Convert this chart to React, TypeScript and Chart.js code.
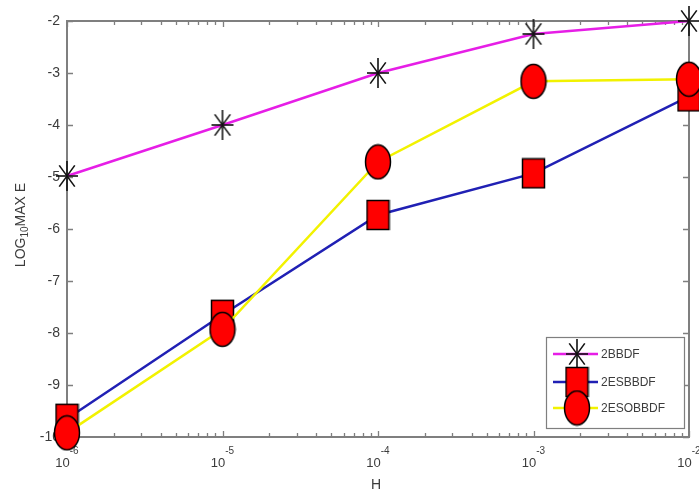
import React, { useEffect, useRef } from "react";
import { Chart, registerables } from "chart.js";

Chart.register(...registerables);

const hValues = [1e-6, 1e-5, 1e-4, 1e-3, 1e-2];
const bbdf = [-4.98, -4.0, -3.0, -2.25, -2.0];
const esbbdf = [-9.65, -7.65, -5.73, -4.93, -3.45];
const esobbdf = [-9.92, -7.93, -4.71, -3.16, -3.12];
const yTicks = [-2, -3, -4, -5, -6, -7, -8, -9, -10];
const xExponents = [-6, -5, -4, -3, -2];
const seriesNames = ["2BBDF", "2ESBBDF", "2ESOBBDF"];
const seriesColors = ["#e61ee6", "#2020b4", "#f2f200"];

const FONT = '"Liberation Sans", Arial, sans-serif';
const AXIS = "#7f7f7f";
const TEXT = "#3c3c3c";

function makeCircle(): HTMLCanvasElement {
  const c = document.createElement("canvas");
  c.width = 28;
  c.height = 37;
  const ctx = c.getContext("2d")!;
  ctx.beginPath();
  ctx.ellipse(14, 18.5, 12.5, 17, 0, 0, Math.PI * 2);
  ctx.fillStyle = "#ff0000";
  ctx.fill();
  ctx.lineWidth = 1.5;
  ctx.strokeStyle = "#000";
  ctx.stroke();
  return c;
}

function makeSquare(): HTMLCanvasElement {
  const c = document.createElement("canvas");
  c.width = 25;
  c.height = 32;
  const ctx = c.getContext("2d")!;
  ctx.fillStyle = "#ff0000";
  ctx.fillRect(1.5, 1.5, 22, 29);
  ctx.lineWidth = 1.5;
  ctx.strokeStyle = "#000";
  ctx.strokeRect(1.5, 1.5, 22, 29);
  return c;
}

function makeStar(): HTMLCanvasElement {
  const c = document.createElement("canvas");
  c.width = 26;
  c.height = 34;
  const ctx = c.getContext("2d")!;
  ctx.strokeStyle = "#111";
  ctx.lineWidth = 1.6;
  const cx = 13, cy = 17, rx = 11, ry = 15;
  for (let i = 0; i < 4; i++) {
    const a = (i * Math.PI) / 4;
    ctx.beginPath();
    ctx.moveTo(cx + rx * Math.cos(a), cy + ry * Math.sin(a));
    ctx.lineTo(cx - rx * Math.cos(a), cy - ry * Math.sin(a));
    ctx.stroke();
  }
  return c;
}

export default function App() {
  const ref = useRef<HTMLCanvasElement | null>(null);

  useEffect(() => {
    document.body.style.margin = "0";
    const canvas = ref.current!;
    const star = makeStar();
    const square = makeSquare();
    const circle = makeCircle();
    const markers = [star, square, circle];

    const axesPlugin = {
      id: "matlabAxes",
      beforeDatasetsDraw(chart: any) {
        const ctx = chart.ctx as CanvasRenderingContext2D;
        const { left, right, top, bottom } = chart.chartArea;
        const xs = chart.scales.x;
        const ys = chart.scales.y;
        ctx.save();
        ctx.strokeStyle = AXIS;
        ctx.lineWidth = 2;
        ctx.strokeRect(left, top, right - left, bottom - top);
        ctx.lineWidth = 1.3;
        for (const v of yTicks) {
          const py = Math.round(ys.getPixelForValue(v)) + 0.5;
          ctx.beginPath();
          ctx.moveTo(left, py);
          ctx.lineTo(left + 6, py);
          ctx.moveTo(right, py);
          ctx.lineTo(right - 6, py);
          ctx.stroke();
        }
        for (let d = -6; d <= -2; d++) {
          for (let k = 1; k <= 9; k++) {
            if (d === -2 && k > 1) break;
            const v = k * Math.pow(10, d);
            const px = Math.round(xs.getPixelForValue(v)) + 0.5;
            const len = k === 1 ? 6 : 4;
            ctx.beginPath();
            ctx.moveTo(px, bottom);
            ctx.lineTo(px, bottom - len);
            ctx.moveTo(px, top);
            ctx.lineTo(px, top + len);
            ctx.stroke();
          }
        }
        ctx.fillStyle = TEXT;
        ctx.font = `14px ${FONT}`;
        ctx.textAlign = "right";
        ctx.textBaseline = "middle";
        for (const v of yTicks) {
          ctx.fillText(String(v), left - 7, ys.getPixelForValue(v) + 0.5);
        }
        ctx.textAlign = "left";
        ctx.textBaseline = "alphabetic";
        for (const e of xExponents) {
          const px = xs.getPixelForValue(Math.pow(10, e));
          ctx.font = `13px ${FONT}`;
          const w1 = ctx.measureText("10").width;
          ctx.font = `10px ${FONT}`;
          const w2 = ctx.measureText(String(e)).width;
          const x0 = px - (w1 + w2) / 2;
          ctx.font = `13px ${FONT}`;
          ctx.fillText("10", x0, 467);
          ctx.font = `10px ${FONT}`;
          ctx.fillText(String(e), x0 + w1, 454);
        }
        ctx.font = `14px ${FONT}`;
        ctx.textAlign = "center";
        ctx.fillText("H", 376, 489);
        ctx.translate(21, 225);
        ctx.rotate(-Math.PI / 2);
        ctx.textAlign = "left";
        ctx.textBaseline = "middle";
        ctx.font = `14px ${FONT}`;
        const a = ctx.measureText("LOG").width;
        const c = ctx.measureText("MAX E").width;
        ctx.font = `10px ${FONT}`;
        const b = ctx.measureText("10").width;
        let x = -(a + b + c) / 2;
        ctx.font = `14px ${FONT}`;
        ctx.fillText("LOG", x, 0);
        x += a;
        ctx.font = `10px ${FONT}`;
        ctx.fillText("10", x, 4);
        x += b;
        ctx.font = `14px ${FONT}`;
        ctx.fillText("MAX E", x, 0);
        ctx.restore();
      },
      afterDatasetsDraw(chart: any) {
        const ctx = chart.ctx as CanvasRenderingContext2D;
        ctx.save();
        ctx.fillStyle = "#fff";
        ctx.fillRect(546, 337, 138, 91);
        ctx.strokeStyle = AXIS;
        ctx.lineWidth = 1.2;
        ctx.strokeRect(546.5, 337.5, 138, 91);
        const rows = [354, 382, 408];
        for (let i = 0; i < 3; i++) {
          ctx.strokeStyle = seriesColors[i];
          ctx.lineWidth = 2.5;
          ctx.beginPath();
          ctx.moveTo(553, rows[i]);
          ctx.lineTo(598, rows[i]);
          ctx.stroke();
        }
        for (let i = 0; i < 3; i++) {
          const m = markers[i];
          ctx.drawImage(m, 577 - m.width / 2, rows[i] - m.height / 2);
        }
        ctx.fillStyle = TEXT;
        ctx.font = `12px ${FONT}`;
        ctx.textAlign = "left";
        ctx.textBaseline = "middle";
        for (let i = 0; i < 3; i++) {
          ctx.fillText(seriesNames[i], 601, rows[i] + 1);
        }
        ctx.restore();
      },
    };

    const toPts = (ys: number[]) => hValues.map((h, i) => ({ x: h, y: ys[i] }));

    const chart = new Chart(canvas, {
      type: "line",
      data: {
        datasets: [
          {
            label: seriesNames[0],
            data: toPts(bbdf),
            borderColor: seriesColors[0],
            borderWidth: 2.5,
            pointStyle: star as any,
            pointRadius: 6,
            tension: 0,
            clip: false as any,
            order: 3,
          },
          {
            label: seriesNames[1],
            data: toPts(esbbdf),
            borderColor: seriesColors[1],
            borderWidth: 2.5,
            pointStyle: square as any,
            pointRadius: 6,
            tension: 0,
            clip: false as any,
            order: 2,
          },
          {
            label: seriesNames[2],
            data: toPts(esobbdf),
            borderColor: seriesColors[2],
            borderWidth: 2.5,
            pointStyle: circle as any,
            pointRadius: 6,
            tension: 0,
            clip: false as any,
            order: 1,
          },
        ],
      },
      options: {
        animation: false,
        responsive: false,
        devicePixelRatio: 1,
        layout: { padding: { left: 67, right: 10, top: 21, bottom: 61 } },
        plugins: { legend: { display: false }, tooltip: { enabled: false } },
        scales: {
          x: { type: "logarithmic", min: 1e-6, max: 1e-2, display: false },
          y: { type: "linear", min: -10, max: -2, display: false },
        },
      },
      plugins: [axesPlugin],
    });
    return () => chart.destroy();
  }, []);

  return (
    <div style={{ width: 699, height: 498, background: "#fff" }}>
      <canvas ref={ref} width={699} height={498} />
    </div>
  );
}
